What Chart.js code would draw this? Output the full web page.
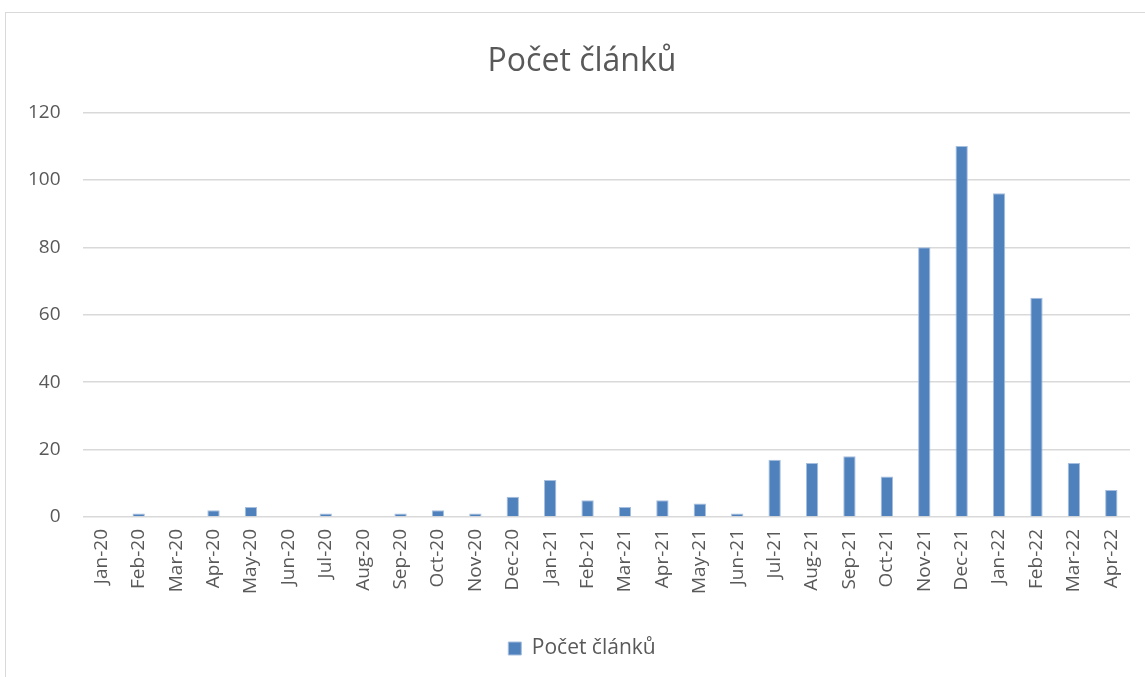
<!DOCTYPE html>
<html>
<head>
<meta charset="utf-8">
<script src="https://cdn.jsdelivr.net/npm/chart.js@4/dist/chart.umd.min.js"></script>
<style>
    body { margin: 0; background: #fff; }
    #frame {
        position: absolute; left: 5px; top: 12px;
        width: 1160px; height: 680px;
        border: 1px solid #d9d9d9;
        box-sizing: border-box;
    }
    #box { position: absolute; left: 0; top: 0; width: 1140px; height: 665px; }
</style>
</head>
<body>
<div id="frame"><div id="box"><canvas id="chart"></canvas></div></div>
<script>
// Měsíce a počty článků
const months = ['Jan-20', 'Feb-20', 'Mar-20', 'Apr-20', 'May-20', 'Jun-20', 'Jul-20', 'Aug-20', 'Sep-20', 'Oct-20',
    'Nov-20', 'Dec-20', 'Jan-21', 'Feb-21', 'Mar-21', 'Apr-21', 'May-21', 'Jun-21', 'Jul-21', 'Aug-21',
    'Sep-21', 'Oct-21', 'Nov-21', 'Dec-21', 'Jan-22', 'Feb-22', 'Mar-22', 'Apr-22'];
const articleCounts = [0, 1, 0, 2, 3, 0, 1, 0, 1, 2,
    1, 6, 11, 5, 3, 5, 4, 1, 17, 16,
    18, 12, 80, 110, 96, 65, 16, 8];
const yTicks = [0, 20, 40, 60, 80, 100, 120];

const seriesName = 'Počet článků';
const textColor = '#595959';
const fontFamily = '"Open Sans", "Noto Sans", sans-serif';

// Titulek a legenda jsou v originále trochu posunuté doprava
const shiftBlocks = {
    id: 'shiftBlocks',
    afterLayout: (chart) => {
        [chart.titleBlock, chart.legend].forEach((block) => {
            if (block) {
                block.left += 14;
                block.right += 14;
            }
        });
    }
};

const config = {
    type: 'bar',
    data: {
        labels: months,
        datasets: [{
            label: seriesName,
            data: articleCounts,
            backgroundColor: '#4f81bd',
            borderColor: '#a7bfde',
            borderWidth: 1,
            barPercentage: 0.33,
            categoryPercentage: 1
        }]
    },
    options: {
        responsive: true,
        maintainAspectRatio: false,
        animation: false,
        layout: {
            padding: { left: 0, right: 16, top: 0, bottom: 9 }
        },
        scales: {
            x: {
                grid: { display: false },
                border: { display: false },
                afterFit: (axis) => {
                    // místo mezi popisky a legendou
                    axis.height += 20;
                },
                ticks: {
                    color: textColor,
                    font: { family: fontFamily, size: 19 },
                    minRotation: 90,
                    maxRotation: 90,
                    autoSkip: false,
                    padding: 4
                }
            },
            y: {
                min: 0,
                max: 120,
                afterBuildTicks: (axis) => {
                    axis.ticks = yTicks.map(v => ({ value: v }));
                },
                grid: { color: '#d9d9d9', lineWidth: 1.5, drawTicks: false },
                border: { display: false },
                ticks: {
                    color: textColor,
                    font: { family: fontFamily, size: 19 },
                    padding: 22
                }
            }
        },
        plugins: {
            title: {
                display: true,
                text: seriesName,
                color: textColor,
                font: { family: fontFamily, size: 32, weight: 'normal' },
                padding: { top: 30, bottom: 31 }
            },
            legend: {
                position: 'bottom',
                labels: {
                    color: textColor,
                    font: { family: fontFamily, size: 21 },
                    boxWidth: 13,
                    boxHeight: 13,
                    padding: 20
                }
            },
            tooltip: { enabled: false }
        }
    },
    plugins: [shiftBlocks]
};

new Chart(document.getElementById('chart'), config);
</script>
</body>
</html>
